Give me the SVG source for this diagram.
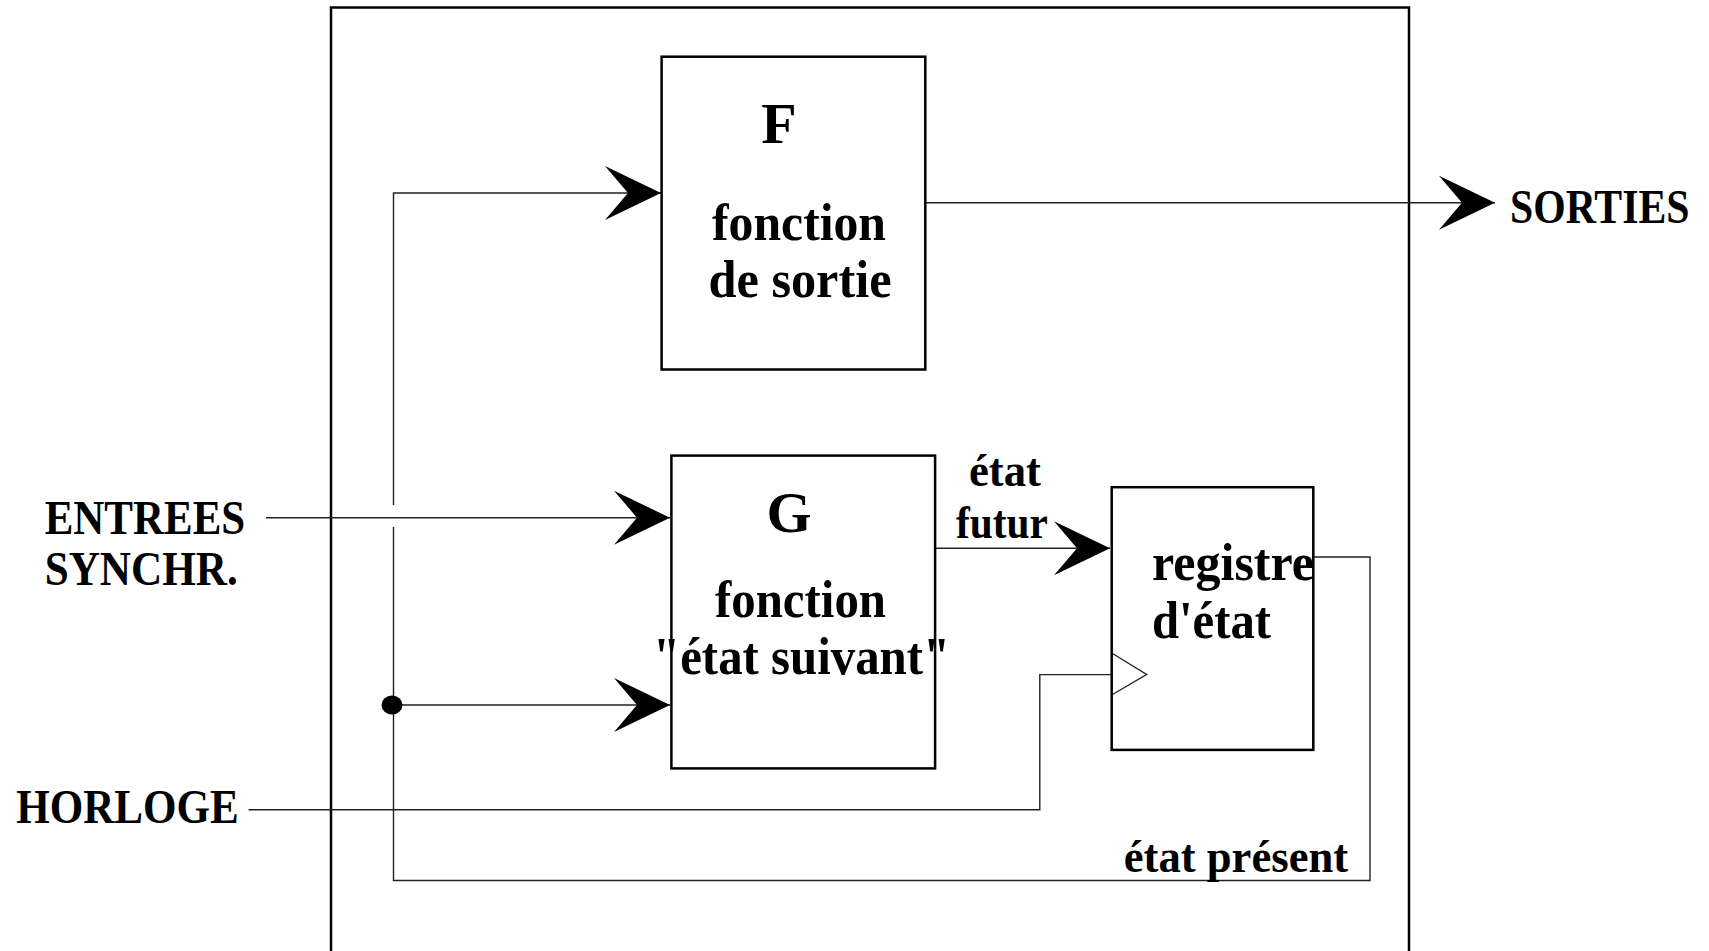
<svg xmlns="http://www.w3.org/2000/svg" width="1709" height="951" viewBox="0 0 1709 951">
<style>
.box{fill:none;stroke:#000;stroke-width:2.5}
.wire{fill:none;stroke:#222;stroke-width:1.4}
.t{font-family:"Liberation Serif","Times New Roman",serif;font-weight:bold;fill:#000}
.big{font-size:58px}
.mid{font-size:52px}
.sm{font-size:46px}
.lab{font-size:48px}
</style>
<defs>
<marker id="arr" markerUnits="userSpaceOnUse" viewBox="-60 -30 64 60" markerWidth="64" markerHeight="60" refX="0" refY="0" orient="auto">
<path d="M0,0 L-56,-27 L-33,0 L-56,27 Z" fill="#000"/>
</marker>
</defs>
<rect width="1709" height="951" fill="#fff"/>
<path id="outer" class="box" d="M331,965 V7.6 H1409 V965"/>
<g id="connectors">
<path class="wire" d="M1313.3,557 H1370 V880.5 H393.5 V527"/>
<path class="wire" d="M393.5,505 V193 H661" marker-end="url(#arr)"/>
<path class="wire" d="M392,705 H670" marker-end="url(#arr)"/>
<path class="wire" d="M266,517.7 H670" marker-end="url(#arr)"/>
<path class="wire" d="M248.5,809.8 H1039.8 V674.6 H1111.7"/>
<path class="wire" d="M935,548.3 H1110" marker-end="url(#arr)"/>
<path class="wire" d="M925.3,202.7 H1495" marker-end="url(#arr)"/>
<polyline class="wire" points="1111.7,653 1146.6,674.5 1111.7,695"/>
<ellipse cx="392" cy="705" rx="10.5" ry="9.5" fill="#000"/>
</g>
<g id="nodeF">
<rect class="box" x="661.6" y="56.7" width="263.7" height="312.8"/>
<text class="t big" x="779" y="142.8" text-anchor="middle">F</text>
<text class="t mid" x="799" y="239.8" text-anchor="middle" textLength="174" lengthAdjust="spacingAndGlyphs">fonction</text>
<text class="t mid" x="800" y="296.5" text-anchor="middle" textLength="183" lengthAdjust="spacingAndGlyphs">de sortie</text>
</g>
<g id="nodeG">
<rect class="box" x="671.4" y="455.6" width="263.7" height="312.8"/>
<text class="t big" x="789" y="532" text-anchor="middle">G</text>
<text class="t mid" x="800.5" y="617" text-anchor="middle" textLength="171" lengthAdjust="spacingAndGlyphs">fonction</text>
<text class="t mid" x="801.6" y="673.6" text-anchor="middle" textLength="297" lengthAdjust="spacingAndGlyphs">"état suivant"</text>
</g>
<g id="nodeReg">
<rect class="box" x="1111.7" y="487.2" width="201.6" height="262.7"/>
<text class="t mid" x="1152" y="580" textLength="162" lengthAdjust="spacingAndGlyphs">registre</text>
<text class="t mid" x="1152" y="637.6" textLength="119" lengthAdjust="spacingAndGlyphs">d'état</text>
</g>
<g id="labels">
<text class="t sm" x="1005" y="486" text-anchor="middle" textLength="72" lengthAdjust="spacingAndGlyphs">état</text>
<text class="t sm" x="1002" y="538.4" text-anchor="middle" textLength="92" lengthAdjust="spacingAndGlyphs">futur</text>
<text class="t sm" x="1123.7" y="872" textLength="224.5" lengthAdjust="spacingAndGlyphs">état présent</text>
<text class="t lab" transform="translate(1510,223.4) scale(0.87,1)">SORTIES</text>
<text class="t lab" x="44.7" y="534" textLength="200.5" lengthAdjust="spacingAndGlyphs">ENTREES</text>
<text class="t lab" x="44.7" y="585" textLength="193" lengthAdjust="spacingAndGlyphs">SYNCHR.</text>
<text class="t lab" x="16.3" y="823" textLength="222.4" lengthAdjust="spacingAndGlyphs">HORLOGE</text>
</g>
</svg>
